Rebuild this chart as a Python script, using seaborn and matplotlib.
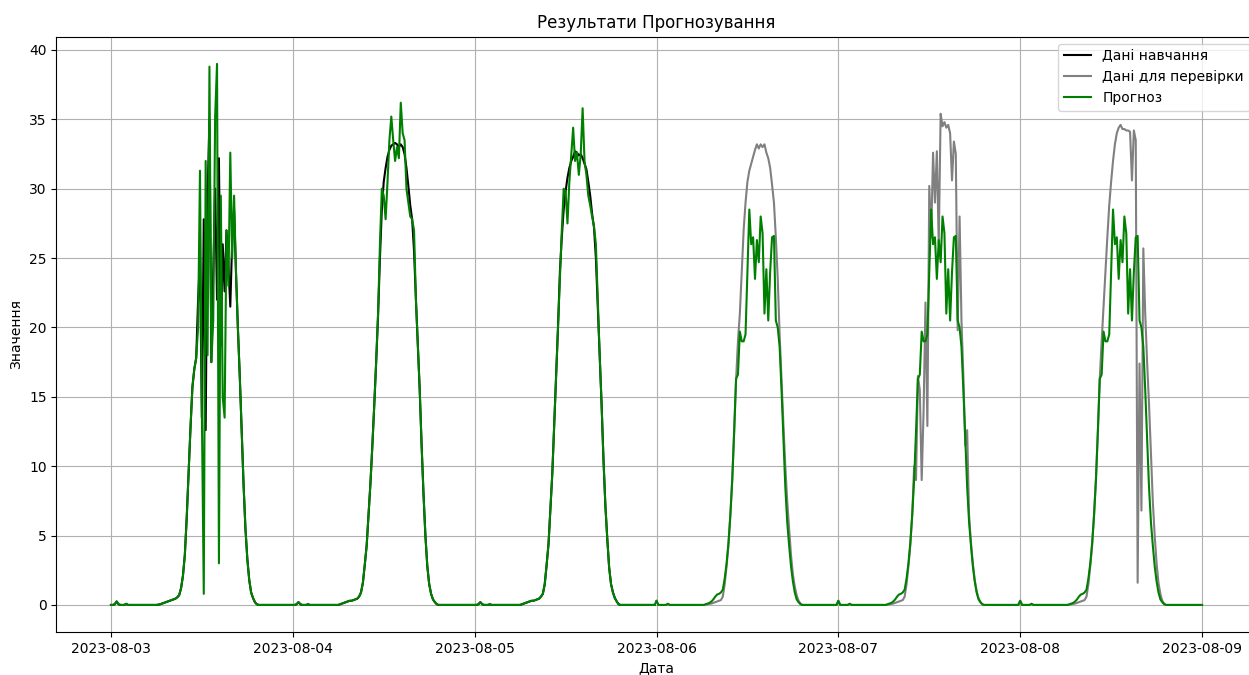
import matplotlib
matplotlib.use("Agg")
import matplotlib.pyplot as plt
import matplotlib.dates as mdates
import seaborn as sns
import pandas as pd

# ---------------- data (15-minute samples, 96 per day) ----------------
train_day1 = [
    0.0, 0.0, 0.05, 0.25, 0.05, 0.0, 0.0, 0.0,
    0.08, 0.0, 0.0, 0.0, 0.0, 0.0, 0.0, 0.0,
    0.0, 0.0, 0.0, 0.0, 0.0, 0.0, 0.0, 0.0,
    0.0, 0.02, 0.05, 0.1, 0.15, 0.2, 0.25, 0.3,
    0.35, 0.4, 0.45, 0.55, 0.7, 1.2, 2.1, 3.6,
    6.3, 9.5, 12.8, 15.7, 17.0, 17.8, 22.0, 25.0,
    13.5, 27.8, 12.6, 29.4, 35.0, 17.5, 24.0, 30.0,
    22.0, 32.2, 18.7, 26.0, 22.6, 27.0, 24.5, 21.5,
    26.3, 28.5, 24.0, 20.0, 16.5, 12.5, 8.7, 5.5,
    3.3, 1.8, 0.9, 0.5, 0.2, 0.05, 0.0, 0.0,
    0.0, 0.0, 0.0, 0.0, 0.0, 0.0, 0.0, 0.0,
    0.0, 0.0, 0.0, 0.0, 0.0, 0.0, 0.0, 0.0,
]
train_day2 = [
    0.0, 0.0, 0.05, 0.2, 0.05, 0.0, 0.0, 0.0,
    0.05, 0.0, 0.0, 0.0, 0.0, 0.0, 0.0, 0.0,
    0.0, 0.0, 0.0, 0.0, 0.0, 0.0, 0.0, 0.0,
    0.0, 0.05, 0.1, 0.15, 0.2, 0.25, 0.3, 0.3,
    0.35, 0.4, 0.45, 0.6, 0.9, 1.6, 2.9, 4.3,
    6.5, 8.8, 11.5, 14.4, 17.5, 20.8, 25.0, 28.5,
    30.5, 31.5, 32.3, 32.8, 33.1, 33.2, 33.3, 33.2,
    33.0, 33.2, 33.0, 32.5, 31.5, 30.2, 28.8, 27.8,
    25.5, 22.0, 18.8, 15.5, 11.5, 8.0, 5.0, 2.8,
    1.5, 0.8, 0.4, 0.2, 0.05, 0.0, 0.0, 0.0,
    0.0, 0.0, 0.0, 0.0, 0.0, 0.0, 0.0, 0.0,
    0.0, 0.0, 0.0, 0.0, 0.0, 0.0, 0.0, 0.0,
]
train_day3 = [
    0.0, 0.0, 0.05, 0.2, 0.05, 0.0, 0.0, 0.0,
    0.05, 0.0, 0.0, 0.0, 0.0, 0.0, 0.0, 0.0,
    0.0, 0.0, 0.0, 0.0, 0.0, 0.0, 0.0, 0.0,
    0.0, 0.05, 0.1, 0.15, 0.2, 0.25, 0.3, 0.3,
    0.35, 0.4, 0.45, 0.6, 0.8, 1.5, 2.9, 4.4,
    7.0, 9.5, 13.0, 16.5, 20.0, 24.0, 26.5, 28.5,
    29.8, 30.8, 31.5, 32.0, 32.3, 32.7, 32.6, 32.4,
    32.5, 32.2, 31.8, 31.4, 30.5, 29.5, 28.2, 27.2,
    25.0, 21.5, 18.0, 14.5, 10.5, 7.2, 4.8, 2.7,
    1.5, 0.9, 0.5, 0.25, 0.05, 0.0, 0.0, 0.0,
    0.0, 0.0, 0.0, 0.0, 0.0, 0.0, 0.0, 0.0,
    0.0, 0.0, 0.0, 0.0, 0.0, 0.0, 0.0, 0.0,
]

test_day4 = [
    0.3, 0.0, 0.0, 0.0, 0.0, 0.0, 0.08, 0.0,
    0.0, 0.0, 0.0, 0.0, 0.0, 0.0, 0.0, 0.0,
    0.0, 0.0, 0.0, 0.0, 0.0, 0.0, 0.0, 0.0,
    0.0, 0.0, 0.02, 0.05, 0.08, 0.1, 0.15, 0.2,
    0.25, 0.3, 0.35, 0.6, 1.5, 2.8, 4.3, 6.5,
    9.2, 12.5, 16.2, 19.0, 21.0, 24.0, 27.0, 29.0,
    30.5, 31.3, 31.8, 32.3, 32.8, 33.2, 32.9, 33.2,
    33.0, 33.2, 32.6, 32.2, 31.5, 30.3, 29.0, 26.5,
    23.5, 19.5, 16.2, 13.0, 10.0, 7.5, 5.5, 3.6,
    2.2, 1.3, 0.7, 0.3, 0.1, 0.0, 0.0, 0.0,
    0.0, 0.0, 0.0, 0.0, 0.0, 0.0, 0.0, 0.0,
    0.0, 0.0, 0.0, 0.0, 0.0, 0.0, 0.0, 0.0,
]
test_day5 = [
    0.3, 0.0, 0.0, 0.0, 0.0, 0.0, 0.08, 0.0,
    0.0, 0.0, 0.0, 0.0, 0.0, 0.0, 0.0, 0.0,
    0.0, 0.0, 0.0, 0.0, 0.0, 0.0, 0.0, 0.0,
    0.0, 0.0, 0.02, 0.05, 0.08, 0.1, 0.15, 0.2,
    0.25, 0.3, 0.35, 0.6, 1.5, 2.8, 4.3, 6.5,
    10.0, 9.0, 16.5, 15.5, 9.0, 14.0, 21.8, 12.9,
    30.2, 26.5, 32.6, 29.0, 32.7, 26.0, 35.4, 34.5,
    34.8, 34.4, 34.6, 34.0, 30.6, 33.4, 32.5, 19.8,
    28.0, 20.5, 16.5, 11.5, 12.6, 6.5, 4.5, 3.0,
    1.8, 1.0, 0.5, 0.2, 0.05, 0.0, 0.0, 0.0,
    0.0, 0.0, 0.0, 0.0, 0.0, 0.0, 0.0, 0.0,
    0.0, 0.0, 0.0, 0.0, 0.0, 0.0, 0.0, 0.0,
]
test_day6 = [
    0.3, 0.0, 0.0, 0.0, 0.0, 0.0, 0.08, 0.0,
    0.0, 0.0, 0.0, 0.0, 0.0, 0.0, 0.0, 0.0,
    0.0, 0.0, 0.0, 0.0, 0.0, 0.0, 0.0, 0.0,
    0.0, 0.0, 0.02, 0.05, 0.08, 0.1, 0.15, 0.2,
    0.25, 0.3, 0.35, 0.6, 1.5, 2.8, 4.3, 6.5,
    9.2, 12.5, 16.3, 19.0, 21.5, 24.0, 26.5, 28.8,
    30.5, 32.0, 33.2, 34.0, 34.4, 34.6, 34.3, 34.3,
    34.2, 34.2, 34.1, 30.6, 34.2, 33.5, 1.6, 17.4,
    6.8, 25.7, 21.0, 17.5, 14.5, 11.0, 7.5, 5.0,
    3.0, 1.6, 0.8, 0.3, 0.1, 0.0, 0.0, 0.0,
    0.0, 0.0, 0.0, 0.0, 0.0, 0.0, 0.0, 0.0,
    0.0, 0.0, 0.0, 0.0, 0.0, 0.0, 0.0, 0.0,
]
test_end = [0.0]

forecast_day1 = [
    0.0, 0.0, 0.05, 0.25, 0.05, 0.0, 0.0, 0.0,
    0.08, 0.0, 0.0, 0.0, 0.0, 0.0, 0.0, 0.0,
    0.0, 0.0, 0.0, 0.0, 0.0, 0.0, 0.0, 0.0,
    0.0, 0.02, 0.05, 0.1, 0.15, 0.2, 0.25, 0.3,
    0.35, 0.4, 0.45, 0.55, 0.7, 1.2, 2.1, 3.6,
    6.3, 9.5, 12.8, 15.7, 17.0, 17.8, 20.0, 31.3,
    13.8, 0.8, 32.0, 18.0, 38.8, 17.5, 20.5, 35.2,
    39.0, 3.0, 29.5, 15.0, 13.5, 27.0, 23.0, 32.6,
    25.0, 29.5, 24.0, 20.0, 16.5, 12.5, 8.7, 5.5,
    3.3, 1.8, 0.9, 0.5, 0.2, 0.05, 0.0, 0.0,
    0.0, 0.0, 0.0, 0.0, 0.0, 0.0, 0.0, 0.0,
    0.0, 0.0, 0.0, 0.0, 0.0, 0.0, 0.0, 0.0,
]
forecast_day2 = [
    0.0, 0.0, 0.05, 0.2, 0.05, 0.0, 0.0, 0.0,
    0.05, 0.0, 0.0, 0.0, 0.0, 0.0, 0.0, 0.0,
    0.0, 0.0, 0.0, 0.0, 0.0, 0.0, 0.0, 0.0,
    0.0, 0.05, 0.1, 0.15, 0.2, 0.25, 0.3, 0.3,
    0.35, 0.4, 0.45, 0.6, 0.9, 1.6, 2.9, 4.3,
    6.5, 8.8, 11.5, 14.4, 17.5, 21.0, 26.0, 30.0,
    29.5, 27.8, 30.5, 33.5, 35.2, 33.5, 32.0, 33.0,
    32.2, 36.2, 34.0, 33.5, 30.0, 29.0, 28.0, 27.8,
    27.0, 22.0, 18.8, 15.5, 11.5, 8.0, 5.0, 2.8,
    1.5, 0.8, 0.4, 0.2, 0.05, 0.0, 0.0, 0.0,
    0.0, 0.0, 0.0, 0.0, 0.0, 0.0, 0.0, 0.0,
    0.0, 0.0, 0.0, 0.0, 0.0, 0.0, 0.0, 0.0,
]
forecast_day3 = [
    0.0, 0.0, 0.05, 0.2, 0.05, 0.0, 0.0, 0.0,
    0.05, 0.0, 0.0, 0.0, 0.0, 0.0, 0.0, 0.0,
    0.0, 0.0, 0.0, 0.0, 0.0, 0.0, 0.0, 0.0,
    0.0, 0.05, 0.1, 0.15, 0.2, 0.25, 0.3, 0.3,
    0.35, 0.4, 0.45, 0.6, 0.8, 1.5, 2.9, 4.4,
    7.0, 9.5, 13.0, 16.5, 20.0, 23.5, 27.0, 30.0,
    29.8, 27.5, 30.5, 32.5, 34.4, 32.0, 32.6, 31.0,
    32.5, 35.8, 32.0, 31.0, 29.5, 28.8, 28.0, 27.3,
    26.0, 22.0, 18.0, 14.5, 10.5, 7.2, 4.8, 2.7,
    1.5, 0.9, 0.5, 0.25, 0.05, 0.0, 0.0, 0.0,
    0.0, 0.0, 0.0, 0.0, 0.0, 0.0, 0.0, 0.0,
    0.0, 0.0, 0.0, 0.0, 0.0, 0.0, 0.0, 0.0,
]
# the forecast over the three test days repeats the same daily profile
forecast_test_day = [
    0.3, 0.0, 0.0, 0.0, 0.0, 0.0, 0.08, 0.0,
    0.0, 0.0, 0.0, 0.0, 0.0, 0.0, 0.0, 0.0,
    0.0, 0.0, 0.0, 0.0, 0.0, 0.0, 0.0, 0.0,
    0.0, 0.0, 0.05, 0.1, 0.15, 0.25, 0.4, 0.6,
    0.75, 0.8, 0.9, 1.1, 1.9, 3.0, 4.5, 6.5,
    9.0, 12.5, 16.3, 16.6, 19.7, 19.0, 19.0, 19.5,
    24.0, 28.5, 26.0, 26.5, 23.5, 26.3, 24.7, 28.0,
    26.8, 21.0, 24.2, 20.5, 24.0, 26.5, 26.6, 20.5,
    20.0, 18.6, 15.5, 12.0, 8.5, 6.0, 4.3, 2.8,
    1.7, 0.9, 0.4, 0.2, 0.05, 0.0, 0.0, 0.0,
    0.0, 0.0, 0.0, 0.0, 0.0, 0.0, 0.0, 0.0,
    0.0, 0.0, 0.0, 0.0, 0.0, 0.0, 0.0, 0.0,
]
forecast_end = [0.0]

train_start = "2023-08-03"
test_start = "2023-08-06"
step = "15min"

title = "Результати Прогнозування"
xlabel = "Дата"
ylabel = "Значення"
label_train = "Дані навчання"
label_test = "Дані для перевірки"
label_forecast = "Прогноз"

# ---------------- build series ----------------
train_vals = train_day1 + train_day2 + train_day3
test_vals = test_day4 + test_day5 + test_day6 + test_end
fc_vals = (forecast_day1 + forecast_day2 + forecast_day3
           + forecast_test_day + forecast_test_day + forecast_test_day + forecast_end)

train_df = pd.DataFrame({"t": pd.date_range(train_start, periods=len(train_vals), freq=step),
                         "v": train_vals})
test_df = pd.DataFrame({"t": pd.date_range(test_start, periods=len(test_vals), freq=step),
                        "v": test_vals})
fc_df = pd.DataFrame({"t": pd.date_range(train_start, periods=len(fc_vals), freq=step),
                      "v": fc_vals})

# ---------------- plot ----------------
fig = plt.figure(figsize=(12.49, 6.75), dpi=100)
ax = fig.add_axes([56.4 / 1249, 1 - 632 / 675, (1256.6 - 56.4) / 1249, (632 - 36.8) / 675])

sns.lineplot(data=train_df, x="t", y="v", ax=ax, color="black", label=label_train,
             estimator=None, linewidth=1.5)
sns.lineplot(data=test_df, x="t", y="v", ax=ax, color="gray", label=label_test,
             estimator=None, linewidth=1.5)
sns.lineplot(data=fc_df, x="t", y="v", ax=ax, color="green", label=label_forecast,
             estimator=None, linewidth=1.5)

ax.set_title(title, fontsize=12)
ax.set_xlabel(xlabel, fontsize=10)
ax.set_ylabel(ylabel, fontsize=10)
ax.xaxis.set_major_locator(mdates.DayLocator())
ax.xaxis.set_major_formatter(mdates.DateFormatter("%Y-%m-%d"))
ax.grid(True)
ax.legend(loc="upper right", fontsize=10)

fig.savefig("out.png", dpi=100)
